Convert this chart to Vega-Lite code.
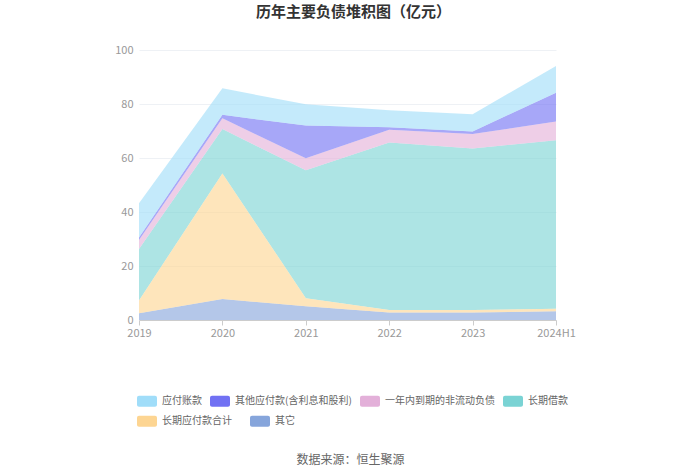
{
  "$schema": "https://vega.github.io/schema/vega-lite/v6.json",
  "padding": {"left": 114, "top": 5, "right": 10, "bottom": 5},
  "background": "white",
  "config": {
    "font": "Noto Sans CJK SC",
    "view": {"stroke": null},
    "legend": {"padding": 0}
  },
  "title": {
    "text": "历年主要负债堆积图（亿元）",
    "fontSize": 15,
    "fontWeight": "bold",
    "color": "#333333",
    "anchor": "middle",
    "frame": "group",
    "dx": 6,
    "offset": 24
  },
  "vconcat": [
    {
      "width": 417,
      "height": 270,
      "title": {
        "text": "数据来源：恒生聚源",
        "orient": "bottom",
        "anchor": "middle",
        "frame": "group",
        "dx": 3,
        "fontSize": 12,
        "fontWeight": "normal",
        "color": "#666666",
        "offset": 117
      },
      "data": {
        "values": [
          {"year": "2019", "cat": "其它", "ord": 1, "value": 2.5},
          {"year": "2019", "cat": "长期应付款合计", "ord": 2, "value": 4.7},
          {"year": "2019", "cat": "长期借款", "ord": 3, "value": 19.1},
          {"year": "2019", "cat": "一年内到期的非流动负债", "ord": 4, "value": 3.3},
          {"year": "2019", "cat": "其他应付款(含利息和股利)", "ord": 5, "value": 1.0},
          {"year": "2019", "cat": "应付账款", "ord": 6, "value": 12.6},
          {"year": "2020", "cat": "其它", "ord": 1, "value": 7.8},
          {"year": "2020", "cat": "长期应付款合计", "ord": 2, "value": 46.5},
          {"year": "2020", "cat": "长期借款", "ord": 3, "value": 16.4},
          {"year": "2020", "cat": "一年内到期的非流动负债", "ord": 4, "value": 4.0},
          {"year": "2020", "cat": "其他应付款(含利息和股利)", "ord": 5, "value": 1.3},
          {"year": "2020", "cat": "应付账款", "ord": 6, "value": 9.8},
          {"year": "2021", "cat": "其它", "ord": 1, "value": 5.1},
          {"year": "2021", "cat": "长期应付款合计", "ord": 2, "value": 3.0},
          {"year": "2021", "cat": "长期借款", "ord": 3, "value": 47.4},
          {"year": "2021", "cat": "一年内到期的非流动负债", "ord": 4, "value": 4.4},
          {"year": "2021", "cat": "其他应付款(含利息和股利)", "ord": 5, "value": 12.1},
          {"year": "2021", "cat": "应付账款", "ord": 6, "value": 7.9},
          {"year": "2022", "cat": "其它", "ord": 1, "value": 2.8},
          {"year": "2022", "cat": "长期应付款合计", "ord": 2, "value": 0.9},
          {"year": "2022", "cat": "长期借款", "ord": 3, "value": 62.0},
          {"year": "2022", "cat": "一年内到期的非流动负债", "ord": 4, "value": 4.8},
          {"year": "2022", "cat": "其他应付款(含利息和股利)", "ord": 5, "value": 0.9},
          {"year": "2022", "cat": "应付账款", "ord": 6, "value": 6.3},
          {"year": "2023", "cat": "其它", "ord": 1, "value": 2.8},
          {"year": "2023", "cat": "长期应付款合计", "ord": 2, "value": 0.9},
          {"year": "2023", "cat": "长期借款", "ord": 3, "value": 59.8},
          {"year": "2023", "cat": "一年内到期的非流动负债", "ord": 4, "value": 5.4},
          {"year": "2023", "cat": "其他应付款(含利息和股利)", "ord": 5, "value": 0.9},
          {"year": "2023", "cat": "应付账款", "ord": 6, "value": 6.4},
          {"year": "2024H1", "cat": "其它", "ord": 1, "value": 3.2},
          {"year": "2024H1", "cat": "长期应付款合计", "ord": 2, "value": 1.0},
          {"year": "2024H1", "cat": "长期借款", "ord": 3, "value": 62.4},
          {"year": "2024H1", "cat": "一年内到期的非流动负债", "ord": 4, "value": 6.9},
          {"year": "2024H1", "cat": "其他应付款(含利息和股利)", "ord": 5, "value": 10.7},
          {"year": "2024H1", "cat": "应付账款", "ord": 6, "value": 9.9}
        ]
      },
      "transform": [
        {"stack": "value", "groupby": ["year"], "sort": [{"field": "ord", "order": "ascending"}], "as": ["v0", "v1"]}
      ],
      "encoding": {
        "x": {
          "field": "year",
          "type": "ordinal",
          "scale": {"type": "point", "padding": 0},
          "axis": {
            "title": null,
            "labelAngle": 0,
            "labelColor": "#999999",
            "labelFontSize": 11,
            "labelPadding": 2,
            "domainColor": "#cccccc",
            "tickColor": "#cccccc",
            "tickSize": 5,
            "grid": false
          }
        },
        "y": {
          "field": "v1",
          "type": "quantitative",
          "scale": {"domain": [0, 100]},
          "axis": {
            "title": null,
            "values": [0, 20, 40, 60, 80, 100],
            "labelOverlap": false,
            "labelColor": "#999999",
            "labelFontSize": 11,
            "labelPadding": 6,
            "domain": false,
            "ticks": false,
            "gridColor": "#eef1f5"
          }
        },
        "y2": {"field": "v0"}
      },
      "layer": [
        {
          "transform": [{"filter": "datum.ord >= 3"}],
          "mark": {"type": "area", "opacity": 0.62, "line": false},
          "encoding": {
            "color": {
              "field": "cat",
              "type": "nominal",
              "sort": ["应付账款", "其他应付款(含利息和股利)", "一年内到期的非流动负债", "长期借款"],
              "scale": {
                "domain": ["应付账款", "其他应付款(含利息和股利)", "一年内到期的非流动负债", "长期借款"],
                "range": ["#a0ddf9", "#7171f3", "#e3b0d9", "#7ad3d4"]
              },
              "legend": {
                "title": null,
                "orient": "none",
                "legendX": -2,
                "legendY": 341,
                "direction": "horizontal",
                "columns": 4,
                "symbolType": "M-0.8,-0.55 L0.8,-0.55 A0.2,0.2 0 0 1 1,-0.35 L1,0.35 A0.2,0.2 0 0 1 0.8,0.55 L-0.8,0.55 A0.2,0.2 0 0 1 -1,0.35 L-1,-0.35 A0.2,0.2 0 0 1 -0.8,-0.55 Z",
                "symbolSize": 400,
                "symbolOpacity": 1,
                "symbolStrokeWidth": 0,
                "labelFontSize": 10,
                "labelColor": "#666666",
                "labelOffset": 5,
                "columnPadding": 8,
                "labelLimit": 300
              }
            }
          }
        },
        {
          "transform": [{"filter": "datum.ord <= 2"}],
          "mark": {"type": "area", "opacity": 0.62, "line": false},
          "encoding": {
            "fill": {
              "field": "cat",
              "type": "nominal",
              "sort": ["长期应付款合计", "其它"],
              "scale": {
                "domain": ["长期应付款合计", "其它"],
                "range": ["#fdd592", "#86a5db"]
              },
              "legend": {
                "title": null,
                "orient": "none",
                "legendX": -2,
                "legendY": 361,
                "direction": "horizontal",
                "columns": 2,
                "symbolType": "M-0.8,-0.55 L0.8,-0.55 A0.2,0.2 0 0 1 1,-0.35 L1,0.35 A0.2,0.2 0 0 1 0.8,0.55 L-0.8,0.55 A0.2,0.2 0 0 1 -1,0.35 L-1,-0.35 A0.2,0.2 0 0 1 -0.8,-0.55 Z",
                "symbolSize": 400,
                "symbolOpacity": 1,
                "symbolStrokeWidth": 0,
                "labelFontSize": 10,
                "labelColor": "#666666",
                "labelOffset": 5,
                "columnPadding": 18,
                "labelLimit": 300
              }
            }
          }
        }
      ]
    }
  ]
}
